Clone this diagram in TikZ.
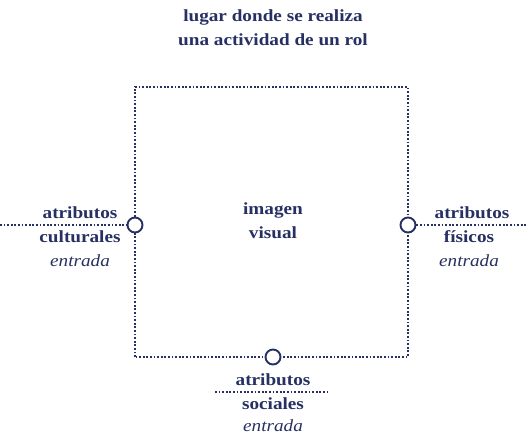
\documentclass[tikz,border=0pt]{standalone}
\usepackage{fontspec}
\setmainfont[FakeStretch=1.13]{Liberation Serif}
\usepackage{xcolor}
\usetikzlibrary{calc}
\definecolor{tinta}{RGB}{38,48,98}

\begin{document}
\begin{tikzpicture}[x=1pt,y=-1pt,
    puntos/.style={tinta, line width=2.2pt, dash pattern=on 1.8pt off 1.8pt},
    enchufe/.style={circle, draw=tinta, line width=1.9pt, fill=white, minimum size=15pt, inner sep=0pt},
    rotulo/.style={tinta, font=\fontsize{17}{24}\selectfont\bfseries, align=center},
    nota/.style={tinta, font=\fontsize{17}{24}\selectfont\itshape}]
    \useasboundingbox (0,0) rectangle (528,437);
    % marco del lugar
    \coordinate (nw) at (135,87);
    \coordinate (ne) at (408,87);
    \coordinate (sw) at (135,357);
    \coordinate (se) at (408,357);
    \coordinate (izq) at (0,225);
    \coordinate (der) at (528,225);
    \node[rotulo] (titulo) at (273,28) {lugar donde se realiza\\una actividad de un rol};
    \node[rotulo] (imagen) at (273,221) {imagen\\visual};
    \draw[puntos] (sw) -- (nw) -- (ne) -- (se) -- (sw);
    \node[enchufe] (pizq) at (135,225) {};
    \node[enchufe] (pder) at (408,225) {};
    \node[enchufe] (pbaj) at (273,357) {};
    \draw[puntos] (izq) -- (pizq);
    \draw[puntos] (pder) -- (der);
    % atributos culturales
    \node[rotulo] (cult1) at (80,213) {atributos};
    \node[rotulo] (cult2) at (80,237) {culturales};
    \node[nota] (cult3) at (80,261) {entrada};
    % atributos fisicos
    \node[rotulo] (fis1) at (472,213) {atributos};
    \node[rotulo] (fis2) at (469,237) {físicos};
    \node[nota] (fis3) at (469,261) {entrada};
    % atributos sociales
    \node[rotulo] (soc1) at (273,380) {atributos};
    \coordinate (sa) at (215,392);
    \coordinate (sb) at (330,392);
    \draw[puntos] (sa) -- (sb);
    \node[rotulo] (soc2) at (273,404) {sociales};
    \node[nota] (soc3) at (273,426) {entrada};
\end{tikzpicture}
\end{document}
